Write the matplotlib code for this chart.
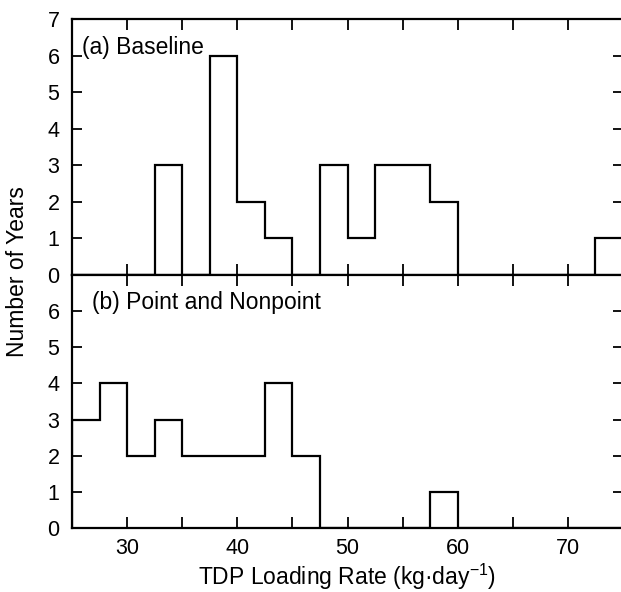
import numpy as np
import matplotlib
matplotlib.use("Agg")
import matplotlib.pyplot as plt
from matplotlib.ticker import MultipleLocator

plt.rcParams['font.family'] = ['Liberation Sans', 'DejaVu Sans']
plt.rcParams['mathtext.fontset'] = 'custom'
plt.rcParams['mathtext.rm'] = 'Liberation Sans'
plt.rcParams['mathtext.it'] = 'Liberation Sans:italic'
plt.rcParams['mathtext.bf'] = 'Liberation Sans:bold'

# Data: TDP loading rate histogram bins (kg/day), width 2.5
bin_edges = np.arange(25, 75.01, 2.5)
baseline_counts = [0, 0, 0, 3, 0, 6, 2, 1, 0, 3, 1, 3, 3, 2, 0, 0, 0, 0, 0, 1]
point_nonpoint_counts = [3, 4, 2, 3, 2, 2, 2, 4, 2, 0, 0, 0, 0, 1, 0, 0, 0, 0, 0, 0]
panel_titles = ["(a) Baseline", "(b) Point and Nonpoint"]
x_ticks = [30, 40, 50, 60, 70]

W, H = 621, 592
fig = plt.figure(figsize=(W / 100, H / 100), dpi=100)

left = 72 / W
width = 551 / W
ax_a = fig.add_axes([left, 1 - 275 / H, width, 256 / H])
ax_b = fig.add_axes([left, 1 - 528 / H, width, 253 / H])

lw = 1.6
for ax, counts, title, ymax_tick, tx in [
    (ax_a, baseline_counts, panel_titles[0], 7, 0.018),
    (ax_b, point_nonpoint_counts, panel_titles[1], 6, 0.037),
]:
    ax.stairs(counts, bin_edges, color='black', linewidth=lw, baseline=0)
    ax.set_xlim(25, 75)
    ax.set_ylim(0, 7)
    ax.set_yticks(range(0, ymax_tick + 1))
    ax.xaxis.set_major_locator(MultipleLocator(10))
    ax.xaxis.set_minor_locator(MultipleLocator(5))
    ax.tick_params(axis='both', which='both', direction='in', top=True, right=True,
                   width=1.3, labelsize=15.5)
    ax.tick_params(axis='x', which='both', length=8, pad=7)
    ax.tick_params(axis='y', which='major', length=7, pad=9)
    for s in ax.spines.values():
        s.set_linewidth(1.6)
    ax.set_xticks(x_ticks)
    ax.text(tx, 6.05, title, fontsize=16.5,
            transform=ax.get_yaxis_transform(), va='baseline', ha='left')

ax_a.tick_params(axis='x', labelbottom=False)
ax_b.set_xlabel("TDP Loading Rate (kg\u00b7day$^{\\mathregular{-1}}$)", fontsize=16.5, labelpad=2)
fig.text(18 / W, 1 - 272 / H, "Number of Years", rotation=90, fontsize=16.5,
         ha='center', va='center')

fig.savefig("out.png", dpi=100)
